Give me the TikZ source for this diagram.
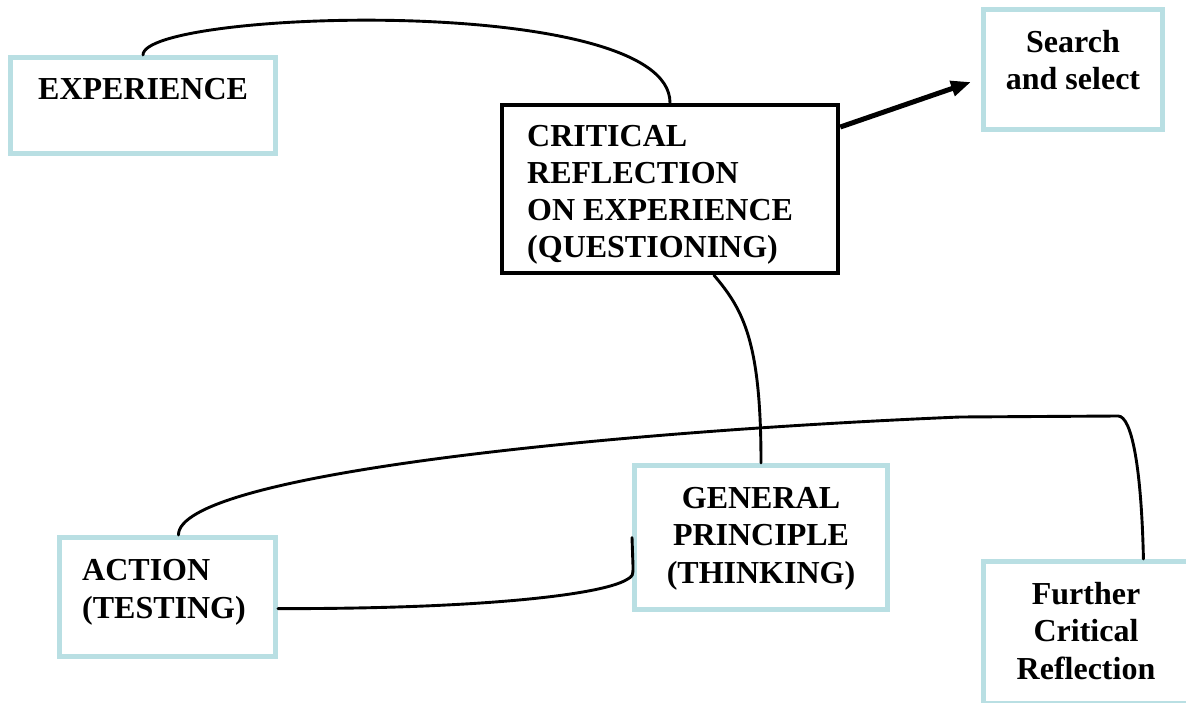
\documentclass[tikz,border=0pt]{standalone}
\usepackage{fontspec}
\setmainfont{Liberation Serif}
\usetikzlibrary{arrows.meta}
\definecolor{boxblue}{RGB}{185,223,227}
\begin{document}
\begin{tikzpicture}[x=1pt,y=-1pt,
  bluebox/.style={draw=boxblue,line width=5pt,inner sep=0pt,fill=white},
  blackbox/.style={draw=black,line width=4.5pt,inner sep=0pt,fill=white},
  lbl/.style={inner sep=0pt,font=\fontsize{32}{37.3}\selectfont\bfseries},
  conn/.style={line width=2.9pt,line cap=round},
  bigarrow/.style={line width=5pt,-{Triangle[length=20pt,width=15pt]}}]
\useasboundingbox (0,0) rectangle (1186,703);
\clip (0,0) rectangle (1186,703);
\fill[white] (0,0) rectangle (1186,703);
% boxes
\node[bluebox,minimum width=265pt,minimum height=96pt] (exp) at (143,105.5) {};
\node[blackbox,minimum width=336pt,minimum height=168pt] (crit) at (670,189) {};
\node[bluebox,minimum width=179pt,minimum height=120pt] (srch) at (1073,69.5) {};
\node[bluebox,minimum width=216pt,minimum height=119pt] (act) at (167.5,597) {};
\node[bluebox,minimum width=253pt,minimum height=144pt] (gen) at (761,537.5) {};
\node[bluebox,minimum width=205pt,minimum height=142pt] (fur) at (1086,632.5) {};
% texts (anchored at the baseline of the last line)
\node[lbl,anchor=base west] (texp) at (38,100) {EXPERIENCE};
\node[lbl,anchor=base west,align=left] (tcrit) at (527,258) {CRITICAL\\REFLECTION\\ON EXPERIENCE\\(QUESTIONING)};
\node[lbl,anchor=base,align=center] (tsrch) at (1073,90) {Search\\and select};
\node[lbl,anchor=base west,align=left] (tact) at (82,618) {ACTION\\(TESTING)};
\node[lbl,anchor=base,align=center] (tgen) at (761,583) {GENERAL\\PRINCIPLE\\(THINKING)};
\node[lbl,anchor=base,align=center] (tfur) at (1086,679) {Further\\Critical\\Reflection};
% connectors
\coordinate (tip) at (971,82);
\coordinate (k1) at (960,417);
\coordinate (k2) at (1118,416);
\draw[conn] (exp.north) .. controls +(0,-45) and +(0,-110) .. (crit.north);
\draw[bigarrow] (crit.20) -- (tip);
\draw[conn] (crit.-63.4) .. controls +(30,35) and +(0,-120) .. (gen.north);
\draw[conn] (act.80) .. controls +(0,-60) and (600,432) .. (k1) -- (k2)
  .. controls +(14,0) and +(-2,-90) .. (fur.52.7);
\draw[conn] (act.-6) .. controls (480,609) and (600,595) .. (626,580)
  .. controls (633,576) .. (633,566) -- (gen.west);
\end{tikzpicture}
\end{document}
